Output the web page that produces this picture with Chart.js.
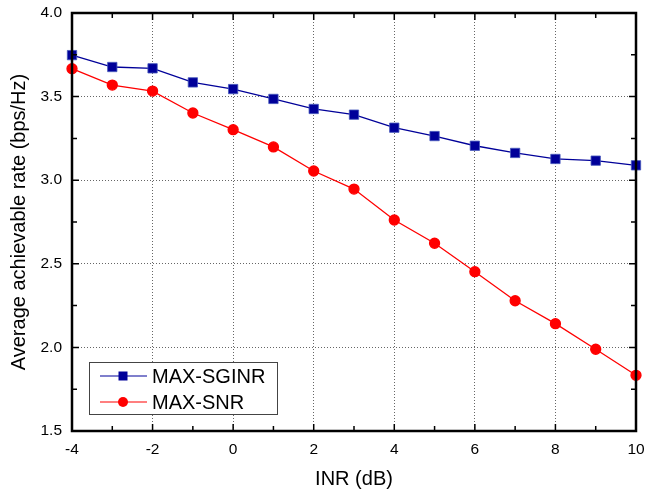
<!DOCTYPE html>
<html>
<head>
<meta charset="utf-8">
<script src="https://cdn.jsdelivr.net/npm/chart.js@4/dist/chart.umd.min.js"></script>
<style>
  html, body { margin: 0; padding: 0; background: #fff; }
  #wrap { width: 646px; height: 492px; }
</style>
</head>
<body>
<div id="wrap"><canvas id="canvas" width="646" height="492"></canvas></div>
<script>
const inr = [-4, -3, -2, -1, 0, 1, 2, 3, 4, 5, 6, 7, 8, 9, 10];
const sginr = [3.748, 3.677, 3.669, 3.585, 3.545, 3.486, 3.426, 3.392, 3.314, 3.264, 3.206, 3.163, 3.127, 3.117, 3.089];
const snr = [3.667, 3.569, 3.533, 3.402, 3.302, 3.199, 3.055, 2.947, 2.762, 2.623, 2.453, 2.279, 2.142, 1.989, 1.833];
const seriesNames = ['MAX-SGINR', 'MAX-SNR'];
const xTicks = [-4, -2, 0, 2, 4, 6, 8, 10];
const yTicks = [1.5, 2.0, 2.5, 3.0, 3.5, 4.0];

const FONT = 'Liberation Sans, Arial, sans-serif';
const BLUE = '#000099';
const RED = '#ff0000';

// ticks pointing inward on all four sides, major + minor
const frameTicks = {
  id: 'frameTicks',
  afterDraw(chart) {
    const { ctx, chartArea: a, scales: { x, y } } = chart;
    ctx.save();
    ctx.strokeStyle = '#000';
    ctx.lineWidth = 1.5;
    ctx.beginPath();
    xTicks.forEach((v, i) => {
      const px = x.getPixelForValue(v);
      ctx.moveTo(px, a.bottom); ctx.lineTo(px, a.bottom - 7);
      ctx.moveTo(px, a.top); ctx.lineTo(px, a.top + 7);
      if (i < xTicks.length - 1) {
        const mx = x.getPixelForValue(v + 1);
        ctx.moveTo(mx, a.bottom); ctx.lineTo(mx, a.bottom - 5);
        ctx.moveTo(mx, a.top); ctx.lineTo(mx, a.top + 5);
      }
    });
    yTicks.forEach((v, i) => {
      const py = y.getPixelForValue(v);
      ctx.moveTo(a.left, py); ctx.lineTo(a.left + 7, py);
      ctx.moveTo(a.right, py); ctx.lineTo(a.right - 7, py);
      if (i < yTicks.length - 1) {
        const my = y.getPixelForValue(v + 0.25);
        ctx.moveTo(a.left, my); ctx.lineTo(a.left + 5, my);
        ctx.moveTo(a.right, my); ctx.lineTo(a.right - 5, my);
      }
    });
    ctx.stroke();
    ctx.lineWidth = 2.5;
    ctx.strokeRect(a.left, a.top, a.right - a.left, a.bottom - a.top);
    ctx.restore();
  }
};

// legend box drawn inside the plot, lower left
const innerLegend = {
  id: 'innerLegend',
  afterDraw(chart) {
    const { ctx, chartArea: a } = chart;
    const bx = a.left + 17, by = a.bottom - 69, bw = 188, bh = 52;
    ctx.save();
    ctx.fillStyle = '#fff';
    ctx.fillRect(bx, by, bw, bh);
    ctx.strokeStyle = '#444';
    ctx.lineWidth = 1;
    ctx.strokeRect(bx + 0.5, by + 0.5, bw, bh);
    chart.data.datasets.forEach((ds, i) => {
      const cy = by + 14 + i * 26;
      ctx.strokeStyle = ds.borderColor;
      ctx.lineWidth = 1.2;
      ctx.beginPath();
      ctx.moveTo(bx + 11, cy); ctx.lineTo(bx + 58, cy);
      ctx.stroke();
      ctx.fillStyle = ds.pointBackgroundColor;
      ctx.beginPath();
      if (ds.pointStyle === 'rect') {
        ctx.rect(bx + 34 - 4.5, cy - 4.5, 9, 9);
      } else {
        ctx.arc(bx + 34, cy, 5, 0, Math.PI * 2);
      }
      ctx.fill();
      ctx.fillStyle = '#000';
      ctx.font = '20px ' + FONT;
      ctx.textBaseline = 'middle';
      ctx.fillText(seriesNames[i], bx + 63, cy + 1);
    });
    ctx.restore();
  }
};

const noOverflow = (s) => {
  s.paddingLeft = 0; s.paddingRight = 0; s.paddingTop = 0; s.paddingBottom = 0;
};

new Chart(document.getElementById('canvas').getContext('2d'), {
  type: 'line',
  data: {
    labels: inr,
    datasets: [
      {
        label: seriesNames[0],
        data: inr.map((v, i) => ({ x: v, y: sginr[i] })),
        borderColor: BLUE, backgroundColor: BLUE,
        pointBackgroundColor: BLUE, pointBorderColor: '#4455bb',
        pointBorderWidth: 0.8,
        pointStyle: 'rect', pointRadius: 6.6, borderWidth: 1.3
      },
      {
        label: seriesNames[1],
        data: inr.map((v, i) => ({ x: v, y: snr[i] })),
        borderColor: RED, backgroundColor: RED,
        pointBackgroundColor: RED, pointBorderColor: RED,
        pointStyle: 'circle', pointRadius: 5, borderWidth: 1.3
      }
    ]
  },
  options: {
    responsive: false,
    animation: false,
    clip: false,
    layout: { padding: { top: 13, right: 10, left: 7, bottom: 1 } },
    plugins: { legend: { display: false }, tooltip: { enabled: false } },
    scales: {
      x: {
        type: 'linear', min: -4, max: 10,
        afterBuildTicks: (s) => { s.ticks = xTicks.map(v => ({ value: v })); },
        afterFit: (s) => { s.height = 60; noOverflow(s); },
        ticks: { color: '#000', font: { family: FONT, size: 15.5 }, padding: 9, maxRotation: 0 },
        grid: { color: '#666', drawTicks: false, lineWidth: 1 },
        border: { display: false, dash: [1, 2] },
        title: { display: true, text: 'INR (dB)', color: '#000', font: { family: FONT, size: 20 }, padding: 0 }
      },
      y: {
        type: 'linear', min: 1.5, max: 4.0,
        afterBuildTicks: (s) => { s.ticks = yTicks.map(v => ({ value: v })); },
        afterFit: (s) => { s.width = 65; noOverflow(s); },
        ticks: { color: '#000', font: { family: FONT, size: 15.5 }, padding: 10, callback: v => v.toFixed(1) },
        grid: { color: '#666', drawTicks: false, lineWidth: 1 },
        border: { display: false, dash: [1, 2] },
        title: { display: true, text: 'Average achievable rate (bps/Hz)', color: '#000', font: { family: FONT, size: 20 }, padding: 0 }
      }
    }
  },
  plugins: [frameTicks, innerLegend]
});
</script>
</body>
</html>
